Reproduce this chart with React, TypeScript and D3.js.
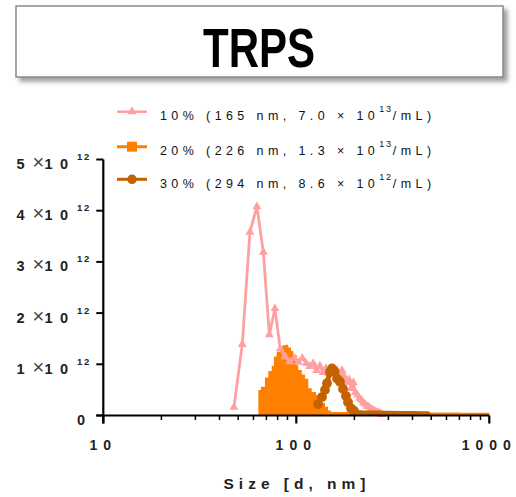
import React from "react";
import * as d3 from "d3";

// 10% series (pink, triangles) — size [nm], concentration [x10^12 /mL]
const pinkSize = [47.5, 52.5, 57.5, 62.5, 67.5, 72.5, 77.5, 82.5, 87.5, 92.5, 97.5, 102.5, 107.5, 112.5, 117.5, 122.5, 127.5, 132.5, 137.5, 142.5, 147.5, 152.5, 157.5, 162.5, 167.5, 172.5, 177.5, 182.5, 187.5, 192.5, 197.5, 202.5, 207.5, 212.5, 217.5, 222.5, 227.5, 232.5, 237.5, 242.5, 247.5, 252.5, 257.5, 262.5, 267.5, 272.5, 277.5];
const pinkConc = [0.16, 1.39, 3.58, 4.08, 3.19, 1.58, 2.09, 1.30, 1.15, 1.05, 1.12, 1.04, 1.12, 1.02, 0.96, 1.02, 0.88, 0.97, 0.84, 0.92, 0.82, 0.90, 0.80, 0.88, 0.78, 0.88, 0.76, 0.64, 0.70, 0.53, 0.64, 0.45, 0.40, 0.34, 0.30, 0.25, 0.22, 0.18, 0.17, 0.13, 0.12, 0.09, 0.08, 0.06, 0.05, 0.04, 0.02];

// 20% series (orange, squares / filled)
const orangeSize = [63.6, 65.6, 68.8, 71.6, 74.6, 76.6, 79.1, 82.3, 84.6, 87.7, 90.9, 93.9, 96.5, 100.5, 102.4, 106.7, 110.9, 115.4, 120.2, 126.5, 131.1, 135.9, 140.8, 146.0, 151.4, 200, 300, 500, 700, 1000];
const orangeConc = [0.50, 0.56, 0.74, 0.87, 0.97, 1.15, 1.24, 1.32, 1.37, 1.38, 1.33, 1.26, 1.18, 0.98, 0.89, 0.80, 0.72, 0.53, 0.46, 0.40, 0.32, 0.25, 0.17, 0.10, 0.07, 0.065, 0.06, 0.06, 0.055, 0.055];

// 30% series (brown, circles)
const brownSize = [129.5, 135.9, 140.8, 144.2, 149.5, 153.1, 157.8, 162.6, 168.4, 174.6, 180.9, 185.3, 192.0, 199.1, 208.8, 220, 250, 300, 350, 400, 450, 480];
const brownConc = [0.22, 0.36, 0.50, 0.63, 0.85, 0.92, 0.86, 0.72, 0.66, 0.52, 0.38, 0.26, 0.14, 0.09, 0.06, 0.055, 0.05, 0.045, 0.04, 0.04, 0.035, 0.035];

const yTicks = [0, 1, 2, 3, 4, 5];
const xMajor = [10, 100, 1000];
const legendLabels = [
  { main: "10% (165 nm, 7.0 × 10", sup: "13", tail: "/mL)" },
  { main: "20% (226 nm, 1.3 × 10", sup: "13", tail: "/mL)" },
  { main: "30% (294 nm, 8.6 × 10", sup: "12", tail: "/mL)" },
];

const PINK = "#ffa0a0";
const ORANGE = "#ff8000";
const BROWN = "#c46200";
const FONT = "'Liberation Sans', Arial, sans-serif";

export default function App() {
  const x = d3.scaleLog().domain([10, 1000]).range([103.3, 489.3]);
  const y = d3.scaleLinear().domain([0, 5]).range([415.5, 159.5]);

  const pink = pinkSize.map((d, i) => [d, pinkConc[i]] as [number, number]);
  const orange = orangeSize.map((d, i) => [d, orangeConc[i]] as [number, number]);
  const brown = brownSize.map((d, i) => [d, brownConc[i]] as [number, number]);

  const line = d3.line<[number, number]>().x((p) => x(p[0])).y((p) => y(p[1]));
  const area = d3
    .area<[number, number]>()
    .x((p) => x(p[0]))
    .y0(y(0))
    .y1((p) => y(p[1]))
    .curve(d3.curveStepAfter);
  const tri = d3.symbol().type(d3.symbolTriangle).size(34)() || "";

  const xTicks = x.ticks();

  return (
    <svg width={516} height={497} style={{ position: "absolute", left: 0, top: 0, background: "#fff" }} fontFamily={FONT}>
      <defs>
        <filter id="shadow" x="-5%" y="-20%" width="115%" height="150%">
          <feDropShadow dx={4} dy={4} stdDeviation={2} floodColor="#888" floodOpacity={0.8} />
        </filter>
      </defs>
      <rect x={0} y={0} width={516} height={497} fill="#fff" />
      {/* Title */}
      <rect x={16} y={6} width={487} height={71} fill="#fff" stroke="#8a8a8a" strokeWidth={1.5} filter="url(#shadow)" />
      <text x={259} y={67} textAnchor="middle" fontSize={56} fontWeight="bold" textLength={112} lengthAdjust="spacingAndGlyphs">
        TRPS
      </text>

      {/* Legend */}
      {legendLabels.map((l, i) => {
        const cy = [111.7, 146.7, 179.3][i];
        const color = [PINK, ORANGE, BROWN][i];
        return (
          <g key={i}>
            <line x1={117} x2={147} y1={cy} y2={cy} stroke={color} strokeWidth={i === 0 ? 2.5 : 3} />
            {i === 0 && <path d={tri} transform={`translate(132,${cy})`} fill={color} />}
            {i === 1 && <rect x={127} y={cy - 5} width={10} height={10} fill={color} />}
            {i === 2 && <circle cx={132} cy={cy} r={4.8} fill={color} />}
            <text x={160} y={cy + 8.3} fontSize={12.5} letterSpacing={4.4} fill="#111">
              <tspan>{l.main}</tspan>
              <tspan dy={-8} fontSize={9} letterSpacing={1.8}>{l.sup}</tspan>
              <tspan dy={8}>{l.tail}</tspan>
            </text>
          </g>
        );
      })}

      {/* Data: orange area */}
      <path d={area(orange) || ""} fill={ORANGE} />
      {/* pink line */}
      <path d={line(pink) || ""} fill="none" stroke={PINK} strokeWidth={2.8} strokeLinejoin="round" />
      {pink.map((p, i) => (
        <path key={i} d={tri} transform={`translate(${x(p[0])},${y(p[1])})`} fill={PINK} />
      ))}
      {/* brown line */}
      <path d={line(brown) || ""} fill="none" stroke={BROWN} strokeWidth={4.8} strokeLinejoin="round" strokeLinecap="round" />
      {brown.filter((p) => p[1] > 0.08).map((p, i) => (
        <circle key={i} cx={x(p[0])} cy={y(p[1])} r={4.9} fill={BROWN} />
      ))}

      {/* Axes */}
      <line x1={x(10)} x2={x(10)} y1={y(5)} y2={y(0) + 8} stroke="#000" strokeWidth={2.2} />
      <line x1={x(10) - 7} x2={x(1000)} y1={y(0)} y2={y(0)} stroke="#000" strokeWidth={2.2} />
      {yTicks.map((t) => (
        <g key={t} fill="#222" fontWeight="bold">
          <line x1={x(10) - 7} x2={x(10)} y1={y(t)} y2={y(t)} stroke="#000" strokeWidth={2} />
          {t === 0 ? (
            <text x={77} y={y(t) + 9.5} fontSize={14.5}>0</text>
          ) : (
            <>
              <text y={y(t) + 9.5} fontSize={14.5}>
                <tspan x={16.5}>{t}</tspan>
                <tspan x={44.5}>1</tspan>
                <tspan x={60}>0</tspan>
              </text>
              <text x={32.5} y={y(t) + 9.5} fontSize={20} fontWeight="normal" fill="#444">×</text>
              <text y={y(t) + 0.5} fontSize={9.5}>
                <tspan x={77}>1</tspan>
                <tspan x={84}>2</tspan>
              </text>
            </>
          )}
        </g>
      ))}
      {xTicks.map((t, i) => {
        const major = xMajor.includes(t);
        return <line key={i} x1={x(t)} x2={x(t)} y1={y(0)} y2={y(0) + (major ? 8 : 4.5)} stroke="#000" strokeWidth={major ? 2.2 : 1.5} />;
      })}
      {xMajor.map((t) => (
        <text key={t} x={x(t)} y={450} textAnchor="middle" fontSize={14} fontWeight="bold" letterSpacing={6} fill="#222">
          {t}
        </text>
      ))}
      <text x={297} y={488.5} textAnchor="middle" fontSize={15.5} fontWeight="bold" letterSpacing={5} fill="#222">
        Size [d, nm]
      </text>
    </svg>
  );
}
